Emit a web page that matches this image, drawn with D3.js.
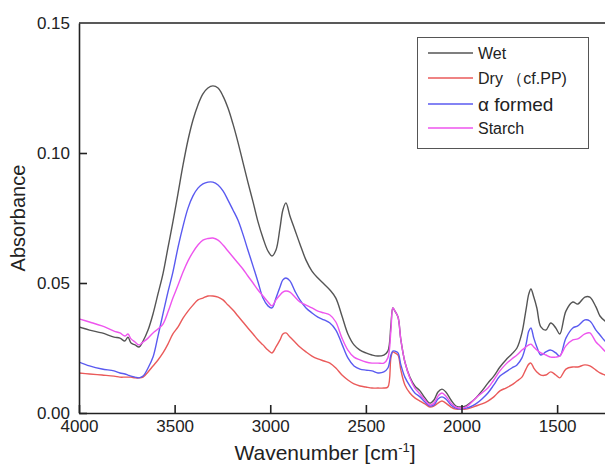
<!DOCTYPE html>
<html>
<head>
<meta charset="utf-8">
<script src="https://cdn.jsdelivr.net/npm/d3@7"></script>
<style>
  body { margin: 0; background: #fff; }
  svg { display: block; font-family: "Liberation Sans", Arial, sans-serif; }
</style>
</head>
<body>
<script>
// spectra
var wavenumber = [4000,3945,3880,3817,3786,3760,3744,3728,3707,3686,
  3665,3639,3613,3587,3561,3535,3509,3482,3456,3430,
  3404,3378,3352,3326,3300,3273,3247,3221,3195,3169,
  3143,3117,3090,3064,3038,3012,2991,2970,2949,2934,
  2918,2897,2871,2845,2813,2782,2751,2719,2688,2657,
  2625,2594,2562,2531,2500,2468,2437,2406,2385,2369,
  2359,2348,2332,2317,2296,2270,2244,2217,2191,2165,
  2144,2123,2102,2082,2055,2029,2003,1977,1956,1925,
  1893,1862,1831,1799,1768,1737,1710,1684,1663,1648,
  1637,1622,1606,1585,1559,1533,1507,1486,1454,1418,
  1392,1355,1329,1297,1276,1250,1224];

var wet = [0.0331,0.0319,0.0308,0.0292,0.0288,0.0277,0.0292,0.0269,0.0262,0.0254,
  0.0277,0.0319,0.0381,0.0458,0.0535,0.0635,0.0735,0.0846,0.0954,0.1050,
  0.1127,0.1185,0.1227,0.1250,0.1258,0.1250,0.1219,0.1173,0.1112,0.1042,
  0.0965,0.0888,0.0812,0.0735,0.0673,0.0623,0.0604,0.0627,0.0712,0.0781,
  0.0808,0.0758,0.0704,0.0650,0.0588,0.0546,0.0519,0.0496,0.0473,0.0442,
  0.0373,0.0304,0.0262,0.0242,0.0231,0.0223,0.0219,0.0223,0.0238,0.0338,
  0.0404,0.0392,0.0369,0.0281,0.0196,0.0138,0.0104,0.0085,0.0058,0.0038,
  0.0050,0.0081,0.0092,0.0081,0.0050,0.0027,0.0023,0.0027,0.0038,0.0058,
  0.0085,0.0115,0.0142,0.0177,0.0204,0.0227,0.0250,0.0308,0.0396,0.0458,
  0.0477,0.0446,0.0404,0.0331,0.0319,0.0346,0.0327,0.0304,0.0392,0.0427,
  0.0419,0.0446,0.0446,0.0408,0.0373,0.0354,0.0342];

var dry = [0.0154,0.0150,0.0146,0.0142,0.0138,0.0138,0.0138,0.0138,0.0135,0.0135,
  0.0138,0.0158,0.0181,0.0204,0.0231,0.0265,0.0304,0.0331,0.0365,0.0392,
  0.0415,0.0435,0.0442,0.0450,0.0450,0.0446,0.0435,0.0415,0.0396,0.0373,
  0.0350,0.0327,0.0304,0.0281,0.0262,0.0242,0.0231,0.0254,0.0281,0.0304,
  0.0308,0.0292,0.0273,0.0254,0.0235,0.0219,0.0208,0.0200,0.0192,0.0173,
  0.0146,0.0127,0.0112,0.0104,0.0100,0.0096,0.0096,0.0096,0.0100,0.0212,
  0.0235,0.0231,0.0223,0.0165,0.0108,0.0077,0.0058,0.0046,0.0035,0.0023,
  0.0027,0.0038,0.0046,0.0038,0.0023,0.0015,0.0015,0.0015,0.0019,0.0027,
  0.0035,0.0046,0.0062,0.0085,0.0096,0.0108,0.0123,0.0138,0.0169,0.0188,
  0.0192,0.0173,0.0158,0.0146,0.0146,0.0158,0.0146,0.0135,0.0169,0.0177,
  0.0177,0.0185,0.0181,0.0165,0.0154,0.0146,0.0138];

var alphaFormed = [0.0196,0.0181,0.0169,0.0162,0.0154,0.0150,0.0146,0.0142,0.0138,0.0135,
  0.0142,0.0173,0.0215,0.0296,0.0381,0.0465,0.0542,0.0638,0.0719,0.0788,
  0.0835,0.0865,0.0881,0.0888,0.0888,0.0877,0.0854,0.0819,0.0781,0.0742,
  0.0688,0.0627,0.0565,0.0504,0.0442,0.0412,0.0404,0.0442,0.0485,0.0512,
  0.0519,0.0508,0.0469,0.0435,0.0404,0.0385,0.0369,0.0358,0.0346,0.0319,
  0.0265,0.0212,0.0181,0.0169,0.0165,0.0162,0.0154,0.0158,0.0173,0.0223,
  0.0238,0.0238,0.0231,0.0185,0.0138,0.0104,0.0077,0.0062,0.0042,0.0027,
  0.0031,0.0054,0.0062,0.0054,0.0031,0.0019,0.0015,0.0019,0.0023,0.0035,
  0.0054,0.0077,0.0108,0.0142,0.0158,0.0173,0.0185,0.0212,0.0262,0.0315,
  0.0327,0.0288,0.0254,0.0223,0.0235,0.0242,0.0231,0.0219,0.0288,0.0327,
  0.0335,0.0358,0.0354,0.0319,0.0300,0.0277,0.0265];

var starch = [0.0362,0.0350,0.0335,0.0315,0.0308,0.0296,0.0304,0.0285,0.0273,0.0262,
  0.0273,0.0288,0.0308,0.0323,0.0342,0.0388,0.0442,0.0492,0.0542,0.0585,
  0.0619,0.0646,0.0665,0.0671,0.0673,0.0665,0.0646,0.0623,0.0600,0.0577,
  0.0554,0.0527,0.0500,0.0473,0.0450,0.0427,0.0412,0.0435,0.0454,0.0465,
  0.0469,0.0465,0.0446,0.0427,0.0415,0.0404,0.0392,0.0385,0.0377,0.0350,
  0.0288,0.0242,0.0215,0.0204,0.0196,0.0192,0.0192,0.0192,0.0212,0.0319,
  0.0404,0.0392,0.0369,0.0281,0.0196,0.0135,0.0096,0.0073,0.0050,0.0031,
  0.0038,0.0065,0.0077,0.0065,0.0038,0.0023,0.0019,0.0023,0.0035,0.0058,
  0.0077,0.0096,0.0127,0.0162,0.0188,0.0208,0.0223,0.0242,0.0254,0.0262,
  0.0265,0.0254,0.0242,0.0231,0.0223,0.0215,0.0215,0.0219,0.0258,0.0281,
  0.0285,0.0304,0.0308,0.0273,0.0258,0.0238,0.0223];

var seriesNames = ["Wet", "Dry （cf.PP)", "α formed", "Starch"];
var seriesColors = ["#555555", "#ea5a5a", "#5a5af0", "#ee55ee"];
var xTicks = [4000, 3500, 3000, 2500, 2000, 1500];
var yTicks = [0.00, 0.05, 0.10, 0.15];

var w = 605, h = 467;
var plotLeft = 79, plotTop = 23, plotBottom = 413;

var svg = d3.select("body").append("svg")
    .attr("width", w)
    .attr("height", h);

svg.append("rect").attr("width", w).attr("height", h).attr("fill", "#fff");

// figure is cropped on the right, the full axis runs to 1000
var x = d3.scaleLinear().domain([4000, 1000]).range([plotLeft, plotLeft + 3000 * 0.19125]);
var y = d3.scaleLinear().domain([0, 0.15]).range([plotBottom, plotTop]);

svg.append("clipPath").attr("id", "plot")
  .append("rect").attr("x", plotLeft).attr("y", plotTop).attr("width", w - plotLeft).attr("height", plotBottom - plotTop);

var all = [wet, dry, alphaFormed, starch];

var line = d3.line()
    .x(function (d) { return x(d[0]); })
    .y(function (d) { return y(d[1]); })
    .curve(d3.curveCatmullRom.alpha(0.5));

svg.append("g").attr("clip-path", "url(#plot)")
  .selectAll("path").data(all).enter().append("path")
    .attr("d", function (vals) { return line(wavenumber.map(function (wn, i) { return [wn, vals[i]]; })); })
    .attr("fill", "none")
    .attr("stroke", function (d, i) { return seriesColors[i]; })
    .attr("stroke-width", 1.4);

// axes
var xAxis = svg.append("g")
    .attr("transform", "translate(0," + plotBottom + ")")
    .call(d3.axisBottom(x).tickValues(xTicks).tickFormat(d3.format("d"))
      .tickSizeInner(-8).tickSizeOuter(0).tickPadding(7));

var yAxis = svg.append("g")
    .attr("transform", "translate(" + plotLeft + ",0)")
    .call(d3.axisLeft(y).tickValues(yTicks).tickFormat(d3.format(".2f"))
      .tickSizeInner(-8).tickSizeOuter(0).tickPadding(9));

[xAxis, yAxis].forEach(function (a) {
  a.selectAll("path, line").attr("stroke", "#222").attr("stroke-width", 1.6);
  a.selectAll("text").attr("fill", "#222").style("font-size", "17px")
    .style("font-family", "'Liberation Sans', Arial, sans-serif");
});
yAxis.selectAll(".tick").filter(function (d) { return d === 0.15; }).select("line").remove();

// top frame line
svg.append("line")
    .attr("x1", plotLeft).attr("x2", w).attr("y1", plotTop).attr("y2", plotTop)
    .attr("stroke", "#222").attr("stroke-width", 1.6);

// axis titles
var xt = svg.append("text")
    .attr("x", 325).attr("y", 460)
    .attr("text-anchor", "middle")
    .attr("fill", "#222")
    .style("font-size", "21px");
xt.append("tspan").text("Wavenumber [cm");
xt.append("tspan").attr("dy", -8).style("font-size", "13px").text("-1");
xt.append("tspan").attr("dy", 8).text("]");

svg.append("text")
    .attr("transform", "translate(25,218) rotate(-90)")
    .attr("text-anchor", "middle")
    .attr("fill", "#222")
    .style("font-size", "20px")
    .text("Absorbance");

// legend
var legend = svg.append("g");
legend.append("rect")
    .attr("x", 417.5).attr("y", 37.5).attr("width", 171).attr("height", 111)
    .attr("fill", "#fff").attr("stroke", "#555").attr("stroke-width", 1);

var rowY = [53, 78, 104, 128];
var rowSize = [16, 16, 19, 16];
seriesNames.forEach(function (name, i) {
  legend.append("line")
      .attr("x1", 428).attr("x2", 473)
      .attr("y1", rowY[i]).attr("y2", rowY[i])
      .attr("stroke", seriesColors[i]).attr("stroke-width", 1.4);
  legend.append("text")
      .attr("x", 478).attr("y", rowY[i])
      .attr("dy", "0.36em")
      .attr("fill", "#222")
      .style("font-size", rowSize[i] + "px")
      .text(name);
});
</script>
</body>
</html>
